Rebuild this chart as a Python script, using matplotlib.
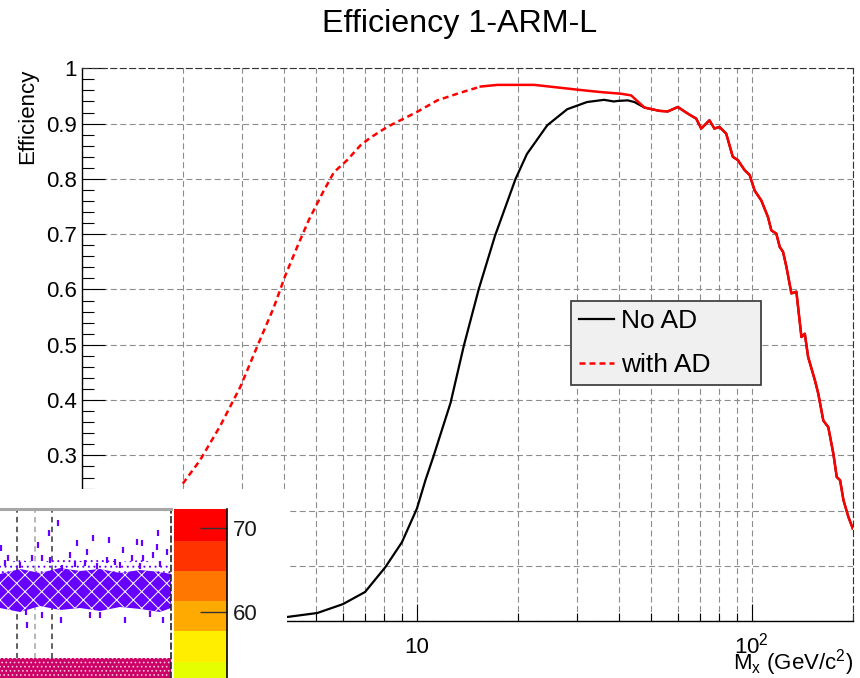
import numpy as np
import matplotlib
matplotlib.use('Agg')
import matplotlib.pyplot as plt
from matplotlib.ticker import FixedLocator, FuncFormatter, MultipleLocator

plt.rcParams['font.family'] = ['Liberation Sans', 'DejaVu Sans']
plt.rcParams['mathtext.default'] = 'regular'
plt.rcParams['lines.scale_dashes'] = False
plt.rcParams['hatch.linewidth'] = 0.7

# efficiency vs M_x (GeV/c^2)
mass_noad = [2.0, 3.0, 4.12, 5.04, 6.01, 7.0, 8.05, 9.02, 10.0, 10.6, 11.2, 12.6, 13.8,
             15.3, 17.1, 19.7, 21.3, 24.5, 28.1, 32.2, 36.2, 38.7, 39.8, 42.6, 44.6]
eff_noad = [0.0, 0.002, 0.008, 0.015, 0.031, 0.053, 0.098, 0.143, 0.204, 0.255, 0.298, 0.395, 0.498,
            0.601, 0.697, 0.800, 0.845, 0.897, 0.926, 0.939, 0.943, 0.940, 0.941, 0.942, 0.939]

mass_ad = [2.0, 2.25, 2.59, 2.97, 3.33, 3.74, 4.05, 4.39, 4.75, 5.21, 5.65, 6.19, 6.79,
           7.24, 8.15, 10.0, 11.5, 13.5, 15.5, 17.4, 22.4, 25.7, 30.5, 35.4, 40.7, 43.6]
eff_ad = [0.249, 0.291, 0.354, 0.424, 0.496, 0.568, 0.626, 0.677, 0.725, 0.773, 0.812, 0.834, 0.861,
          0.874, 0.894, 0.921, 0.942, 0.956, 0.967, 0.970, 0.970, 0.966, 0.961, 0.957, 0.954, 0.951]

# above ~47 GeV both curves lie on top of each other
mass_tail = [47.8, 53.0, 56.1, 60.1, 64.4, 68.2, 70.6, 74.7, 77.3, 80.0, 83.8, 87.7, 90.8,
             95.1, 98.5, 101.9, 106.7, 111.7, 114.3, 118.3, 121.1, 123.9, 126.8, 131.2, 135.8,
             137.4, 140.6, 143.9, 147.2, 154.2, 157.8, 163.4, 169.1, 175.1, 179.2, 183.4,
             187.7, 194.1, 200.0]
eff_tail = [0.929, 0.923, 0.922, 0.930, 0.918, 0.909, 0.891, 0.906, 0.891, 0.894, 0.882, 0.840, 0.834,
            0.816, 0.807, 0.779, 0.761, 0.731, 0.707, 0.701, 0.677, 0.668, 0.641, 0.593, 0.596,
            0.568, 0.514, 0.520, 0.478, 0.436, 0.412, 0.363, 0.351, 0.303, 0.261, 0.255,
            0.219, 0.189, 0.168]

# overlapping piece of another canvas (bottom left)
scat_x = [58, 49, 1, 38, 77, 93, 109, 137, 142, 158, 157, 123, 87, 70, 50, 42, 32, 8, 132, 143,
          153, 167, 107, 115, 62, 5, 20, 85, 97, 120, 160, 140, 75,
          27, 61, 90, 100, 125, 163, 42, 26, 150]
scat_y = [155, 145, 130, 133, 135, 140, 138, 136, 135, 145, 131, 128, 126, 123, 118, 120, 120, 120, 120, 120,
          123, 126, 118, 116, 110, 115, 113, 115, 112, 113, 114, 112, 114,
          53, 58, 63, 63, 58, 58, 63, 66, 64]
core_x = [0, 20, 40, 60, 80, 100, 120, 140, 160, 171]
core_top = [104, 109, 105, 110, 107, 109, 105, 108, 106, 104]
core_bot = [70, 66, 72, 68, 70, 67, 71, 69, 66, 70]
fringe_top = [114, 118, 115, 120, 117, 119, 116, 118, 115, 114]
pal_edges = [50.5, 54.1, 57.7, 61.3, 64.9, 68.5, 72.1, 75.7]
pal_colors = ['#e6ff00', '#ffee00', '#ffaa00', '#ff7700', '#ff3300', '#ff0000', '#ff0000']

W, H = 860, 678
fig = plt.figure(figsize=(W / 100, H / 100), dpi=100)
fig.patch.set_facecolor('white')

ax = fig.add_axes([82 / W, (H - 621.3) / H, 770.7 / W, 553 / H])
ax.set_xscale('log')

l_noad, = ax.plot(mass_noad + mass_tail, eff_noad + eff_tail, color='black', lw=1.6, zorder=3)
m_ad = np.array(mass_ad + mass_tail)
e_ad = np.array(eff_ad + eff_tail)
lo = m_ad <= 15.5
hi = m_ad >= 15.5
l_ad, = ax.plot(m_ad[lo], e_ad[lo], color='red', lw=1.8, ls=(0, (4.3, 2.9)), zorder=4)
ax.plot(m_ad[hi], e_ad[hi], color='red', lw=1.8, zorder=4)

ax.set_xlim(1, 200)
ax.set_ylim(0, 1)

ax.xaxis.set_major_locator(FixedLocator([1, 10, 100]))
ax.xaxis.set_minor_locator(FixedLocator([k * d for d in (1, 10, 100) for k in range(2, 10)]))
ax.xaxis.set_major_formatter(FuncFormatter(
    lambda v, p: {1: '1', 10: '10', 100: '$10^{2}$'}.get(int(round(v)), '')))
ax.xaxis.set_minor_formatter(FuncFormatter(lambda v, p: ''))
ax.yaxis.set_major_locator(MultipleLocator(0.1))
ax.yaxis.set_minor_locator(MultipleLocator(0.02))
ax.yaxis.set_major_formatter(FuncFormatter(lambda v, p: '1' if abs(v - 1) < 1e-6 else ('0' if abs(v) < 1e-6 else '%.1f' % v)))

ax.tick_params(which='both', direction='in', top=False, right=False, color='black', width=0.8)
ax.tick_params(axis='y', which='major', length=16.5, labelsize=16, pad=3.5)
ax.tick_params(axis='y', which='minor', length=8.3)
ax.tick_params(axis='x', which='major', length=12, labelsize=16, pad=23)
ax.tick_params(axis='x', which='minor', length=6)
for lab in ax.get_xticklabels():
    lab.set_va('baseline')

grid_ls = (0, (4.3, 2.5))
ax.grid(True, which='major', axis='both', color='#8c8c8c', lw=0.8, ls=grid_ls)
ax.grid(True, which='minor', axis='x', color='#8c8c8c', lw=0.8, ls=grid_ls)
ax.set_axisbelow(True)
for s in ('left', 'bottom'):
    ax.spines[s].set_linewidth(1.0)
for s in ('top', 'right'):
    ax.spines[s].set_linestyle(grid_ls)
    ax.spines[s].set_color('#333333')
    ax.spines[s].set_linewidth(0.8)

ax.set_ylabel('Efficiency', fontsize=16, loc='top')
ax.yaxis.set_label_coords(-0.057, 1.0)
ax.set_xlabel('$M_{x}$ (GeV/c$^{2}$)', fontsize=16, loc='right', va='baseline')
ax.xaxis.set_label_coords(1.0, -0.087)

fig.text(460 / W, 1 - 32 / H, 'Efficiency 1-ARM-L', ha='center', va='baseline', fontsize=23.2)

leg = ax.legend([l_noad, l_ad], ['No AD', 'with AD'], loc='upper left',
                bbox_to_anchor=(0.6345, 0.4159, 0.2465, 0.1627), mode='expand',
                fontsize=19, handlelength=1.33, handletextpad=0.27, borderpad=0.3,
                labelspacing=0.74, fancybox=False, edgecolor='#333333',
                facecolor='#f0f0f0', framealpha=1, borderaxespad=0)
leg.get_frame().set_linewidth(1.2)

# white patch of the other canvas
cover = fig.add_axes([0, 0, 287 / W, (H - 489) / H])
cover.set_facecolor('white')
cover.set_xticks([])
cover.set_yticks([])
for s in cover.spines.values():
    s.set_visible(False)

ax_in = fig.add_axes([0, 0, 171 / W, (H - 509) / H])
ax_in.set_xlim(0, 171)
ax_in.set_ylim(0, 169)
ax_in.set_xticks([])
ax_in.set_yticks([])
for s in ('left', 'bottom'):
    ax_in.spines[s].set_visible(False)
ax_in.spines['top'].set_color('#a6a6a6')
ax_in.spines['top'].set_linewidth(2.2)
ax_in.spines['right'].set_color('#222222')
ax_in.spines['right'].set_linestyle((0, (4, 3)))
ax_in.spines['right'].set_linewidth(1.2)
for xv, c in zip([17, 35, 52], ['#444444', '#aaaaaa', '#444444']):
    ax_in.axvline(xv, color=c, lw=1.2, ls=(0, (4, 3)), zorder=1)
ax_in.fill_between(core_x, core_top, fringe_top, facecolor='none', edgecolor='#6600ff',
                   hatch='...', lw=0, zorder=2)
ax_in.fill_between(core_x, core_bot, core_top, facecolor='#6600ff', edgecolor='white',
                   hatch='xx', lw=0, zorder=2)
ax_in.plot(scat_x, scat_y, ls='none', marker='|', ms=5, mew=1.6, color='#6600ff', zorder=2)
ax_in.fill_between([0, 171], [0, 0], [20, 20], facecolor='#cc0066', edgecolor='#f2c6dc',
                   hatch='....', lw=0, zorder=2)

ax_pal = fig.add_axes([174 / W, 0, 53 / W, (H - 509) / H])
ax_pal.bar([0.5] * len(pal_colors), np.diff(pal_edges), bottom=pal_edges[:-1], width=1.0,
           color=pal_colors, lw=0)
ax_pal.set_xlim(0, 1)
ax_pal.set_ylim(52.14, 72.26)
ax_pal.set_xticks([])
ax_pal.yaxis.tick_right()
ax_pal.set_yticks([60, 70])
ax_pal.tick_params(axis='y', direction='in', length=19.4, width=1.0, color='#333333',
                   labelsize=16, labelcolor='#1a1a1a', pad=4)
for s in ('left', 'top', 'bottom'):
    ax_pal.spines[s].set_visible(False)
ax_pal.spines['right'].set_linewidth(1.2)

fig.savefig('out.png', dpi=100)
